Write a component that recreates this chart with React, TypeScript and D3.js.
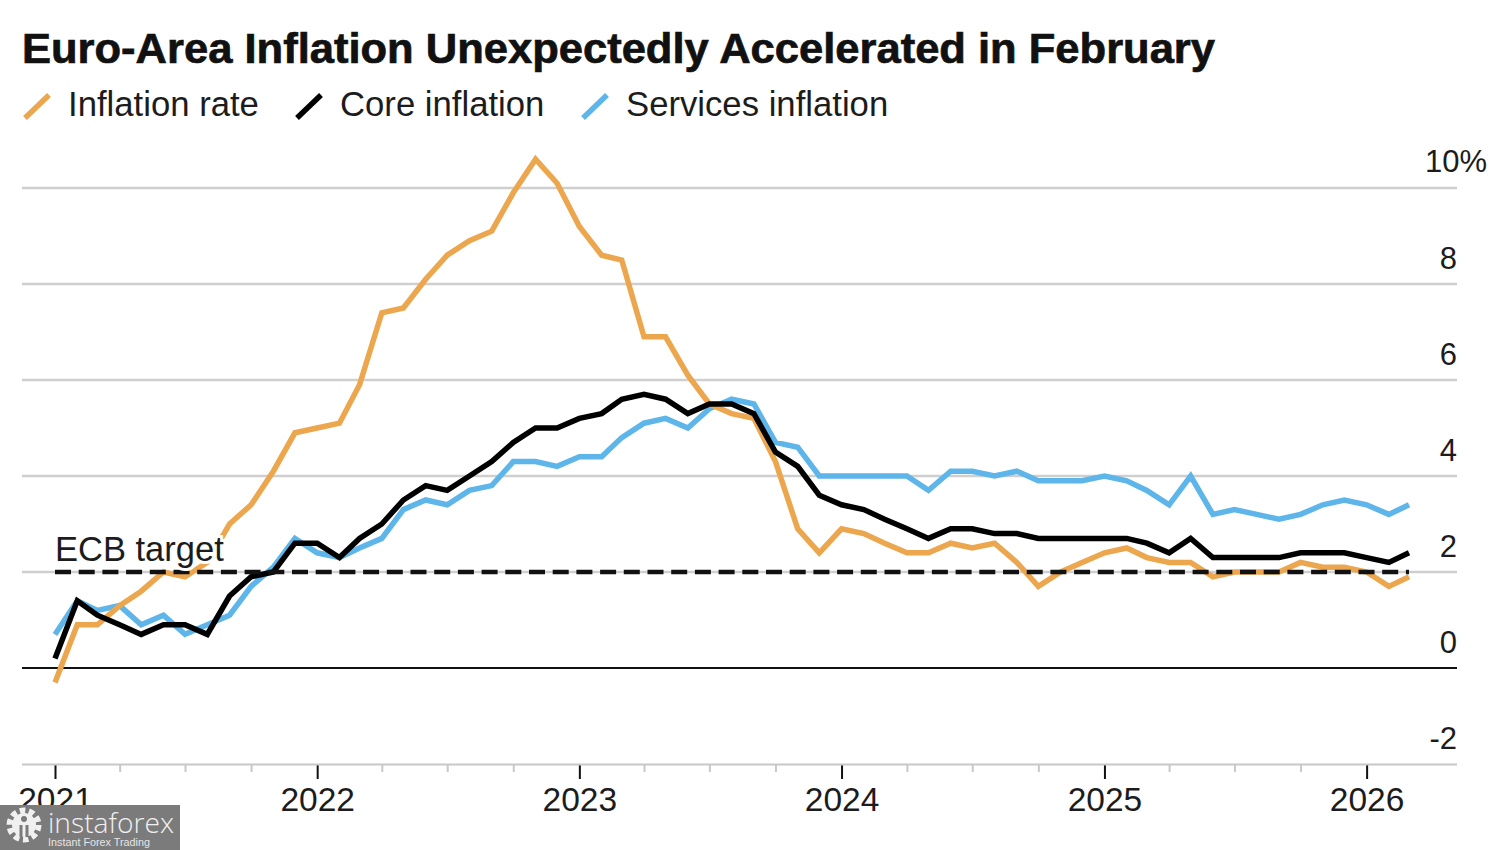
import React, { useRef, useEffect } from 'react';
import * as d3 from 'd3';

const TITLE = 'Euro-Area Inflation Unexpectedly Accelerated in February';
const SERIES_NAMES = ['Inflation rate', 'Core inflation', 'Services inflation'];
const SERIES_COLORS = ['#eca64e', '#000000', '#5db5ea'];

// month-end readings, first one is Dec 2020 (sits on the 2021 tick)
const inflationRate = [
  -0.3, 0.9, 0.9, 1.3, 1.6, 2.0, 1.9, 2.2, 3.0, 3.4, 4.1, 4.9,
  5.0, 5.1, 5.9, 7.4, 7.5, 8.1, 8.6, 8.9, 9.1, 9.9, 10.6, 10.1,
  9.2, 8.6, 8.5, 6.9, 6.9, 6.1, 5.5, 5.3, 5.2, 4.3, 2.9, 2.4,
  2.9, 2.8, 2.6, 2.4, 2.4, 2.6, 2.5, 2.6, 2.2, 1.7, 2.0, 2.2,
  2.4, 2.5, 2.3, 2.2, 2.2, 1.9, 2.0, 2.0, 2.0, 2.2, 2.1, 2.1,
  2.0, 1.7, 1.9,
];
const coreInflation = [
  0.2, 1.4, 1.1, 0.9, 0.7, 0.9, 0.9, 0.7, 1.5, 1.9, 2.0, 2.6,
  2.6, 2.3, 2.7, 3.0, 3.5, 3.8, 3.7, 4.0, 4.3, 4.7, 5.0, 5.0,
  5.2, 5.3, 5.6, 5.7, 5.6, 5.3, 5.5, 5.5, 5.3, 4.5, 4.2, 3.6,
  3.4, 3.3, 3.1, 2.9, 2.7, 2.9, 2.9, 2.8, 2.8, 2.7, 2.7, 2.7,
  2.7, 2.7, 2.6, 2.4, 2.7, 2.3, 2.3, 2.3, 2.3, 2.4, 2.4, 2.4,
  2.3, 2.2, 2.4,
];
const servicesInflation = [
  0.7, 1.4, 1.2, 1.3, 0.9, 1.1, 0.7, 0.9, 1.1, 1.7, 2.1, 2.7,
  2.4, 2.3, 2.5, 2.7, 3.3, 3.5, 3.4, 3.7, 3.8, 4.3, 4.3, 4.2,
  4.4, 4.4, 4.8, 5.1, 5.2, 5.0, 5.4, 5.6, 5.5, 4.7, 4.6, 4.0,
  4.0, 4.0, 4.0, 4.0, 3.7, 4.1, 4.1, 4.0, 4.1, 3.9, 3.9, 3.9,
  4.0, 3.9, 3.7, 3.4, 4.0, 3.2, 3.3, 3.2, 3.1, 3.2, 3.4, 3.5,
  3.4, 3.2, 3.4,
];
const yTicks = [-2, 0, 2, 4, 6, 8, 10];
const ECB_TARGET = 2;

const FONT = '"Liberation Sans", Arial, sans-serif';
const TEXT_COLOR = '#1c1c1c';

const App: React.FC = () => {
  const svgRef = useRef<SVGSVGElement | null>(null);

  useEffect(() => {
    if (!svgRef.current) return;
    const svg = d3.select(svgRef.current);
    svg.selectAll('*').remove();
    svg.style('font-family', FONT);

    const dates = d3.timeMonth.range(new Date(2021, 0, 1), new Date(2026, 2, 2));
    const x = d3.scaleTime().domain([dates[0], dates[dates.length - 1]]).range([55, 1409]);
    const y = d3.scaleLinear().domain([-2, 10]).range([764, 188]);

    // --- TITLE + LEGEND ---
    svg.append('text')
      .attr('x', 22).attr('y', 63)
      .attr('font-size', 42).attr('font-weight', 700)
      .attr('textLength', 1193).attr('lengthAdjust', 'spacingAndGlyphs')
      .attr('stroke', '#111').attr('stroke-width', 0.7)
      .attr('fill', '#111')
      .text(TITLE);

    const legendMarkX = [25, 297, 583];
    const legendTextX = [68, 340, 626];
    SERIES_NAMES.forEach((name, i) => {
      svg.append('line')
        .attr('x1', legendMarkX[i]).attr('y1', 118)
        .attr('x2', legendMarkX[i] + 24).attr('y2', 95)
        .attr('stroke', SERIES_COLORS[i]).attr('stroke-width', 5.5);
      svg.append('text')
        .attr('x', legendTextX[i]).attr('y', 116)
        .attr('font-size', 34.7).attr('fill', TEXT_COLOR)
        .text(name);
    });

    // --- GRID ---
    const grid = svg.append('g');
    yTicks.forEach(t => {
      if (t === -2) return;
      grid.append('line')
        .attr('x1', 22).attr('x2', 1457)
        .attr('y1', y(t)).attr('y2', y(t))
        .attr('stroke', t === 0 ? '#111' : '#cfcfcf')
        .attr('stroke-width', t === 0 ? 2 : 2.5);
    });
    svg.append('g').selectAll('text')
      .data(yTicks)
      .join('text')
      .attr('x', 1457)
      .attr('y', d => y(d) - 15)
      .attr('text-anchor', 'end')
      .attr('font-size', 31)
      .attr('fill', TEXT_COLOR)
      .each(function (d) {
        const t = d3.select(this);
        t.text(d);
        if (d === 10) {
          t.append('tspan').text('%');
          t.attr('text-anchor', 'start').attr('x', 1425).attr('y', y(d) - 16);
        }
      });

    // --- X AXIS ---
    const years = d3.timeYear.range(new Date(2021, 0, 1), new Date(2027, 0, 1));
    const quarters = d3.timeMonth.every(3)!.range(new Date(2021, 0, 1), new Date(2026, 3, 1))
      .filter(d => d.getMonth() !== 0);

    const minorAxis = svg.append('g')
      .attr('transform', 'translate(0,764)')
      .call(d3.axisBottom(x).tickValues(quarters).tickSize(8).tickFormat(() => ''));
    minorAxis.select('.domain').remove();
    minorAxis.selectAll('line').attr('stroke', '#c8c8c8').attr('stroke-width', 2);

    const majorAxis = svg.append('g')
      .attr('transform', 'translate(0,764)')
      .call(d3.axisBottom(x)
        .tickValues(years)
        .tickSize(15)
        .tickPadding(8)
        .tickFormat(d3.timeFormat('%Y') as any));
    majorAxis.select('.domain').remove();
    majorAxis.selectAll('line').attr('stroke', '#111').attr('stroke-width', 2);
    majorAxis.selectAll('text')
      .attr('font-size', 33.5)
      .attr('font-family', FONT)
      .attr('fill', TEXT_COLOR);

    svg.append('line')
      .attr('x1', 22).attr('x2', 1457)
      .attr('y1', 764.5).attr('y2', 764.5)
      .attr('stroke', '#c8c8c8').attr('stroke-width', 2);

    // --- SERIES ---
    const line = d3.line<number>()
      .x((_, i) => x(dates[i]))
      .y(d => y(d));

    // drawn blue, orange, black so the stacking matches the source
    const drawOrder: [number[], string][] = [
      [servicesInflation, SERIES_COLORS[2]],
      [inflationRate, SERIES_COLORS[0]],
      [coreInflation, SERIES_COLORS[1]],
    ];
    drawOrder.forEach(([values, color]) => {
      svg.append('path')
        .attr('d', line(values))
        .attr('fill', 'none')
        .attr('stroke', color)
        .attr('stroke-width', 5.5)
        .attr('stroke-linejoin', 'miter');
    });

    // --- ECB TARGET ---
    svg.append('line')
      .attr('x1', x(dates[0])).attr('x2', x(dates[dates.length - 1]))
      .attr('y1', y(ECB_TARGET)).attr('y2', y(ECB_TARGET))
      .attr('stroke', '#111')
      .attr('stroke-width', 4.5)
      .attr('stroke-dasharray', '16 7.7');
    svg.append('text')
      .attr('x', 55).attr('y', 561)
      .attr('font-size', 34.5)
      .attr('fill', TEXT_COLOR)
      .attr('stroke', 'white')
      .attr('stroke-width', 6)
      .attr('paint-order', 'stroke')
      .text('ECB target');

    // --- WATERMARK ---
    const mark = svg.append('g');
    mark.append('rect')
      .attr('x', 0).attr('y', 805).attr('width', 180).attr('height', 45)
      .attr('fill', '#7b7b7b');
    mark.append('circle')
      .attr('cx', 24).attr('cy', 825).attr('r', 14.5)
      .attr('fill', 'none').attr('stroke', '#f0f0f0').attr('stroke-width', 6)
      .attr('stroke-dasharray', '5.5 3.6');
    mark.append('circle')
      .attr('cx', 24).attr('cy', 825).attr('r', 12)
      .attr('fill', '#f0f0f0');
    mark.append('circle')
      .attr('cx', 24).attr('cy', 819).attr('r', 3)
      .attr('fill', '#7b7b7b');
    mark.append('path')
      .attr('d', 'M21 825 L21 837 M27 825 L27 837')
      .attr('stroke', '#7b7b7b').attr('stroke-width', 3);
    mark.append('text')
      .attr('x', 48).attr('y', 833)
      .attr('font-family', '"Open Sans", sans-serif')
      .attr('font-size', 28).attr('font-weight', 300)
      .attr('textLength', 126).attr('lengthAdjust', 'spacingAndGlyphs')
      .attr('fill', '#f0f0f0')
      .text('instaforex');
    mark.append('text')
      .attr('x', 48).attr('y', 846)
      .attr('font-size', 10.8)
      .attr('fill', '#e6e6e6')
      .text('Instant Forex Trading');
  }, []);

  return (
    <svg
      ref={svgRef}
      width={1500}
      height={850}
      style={{ position: 'absolute', left: 0, top: 0, background: '#fff' }}
    />
  );
};

export default App;
